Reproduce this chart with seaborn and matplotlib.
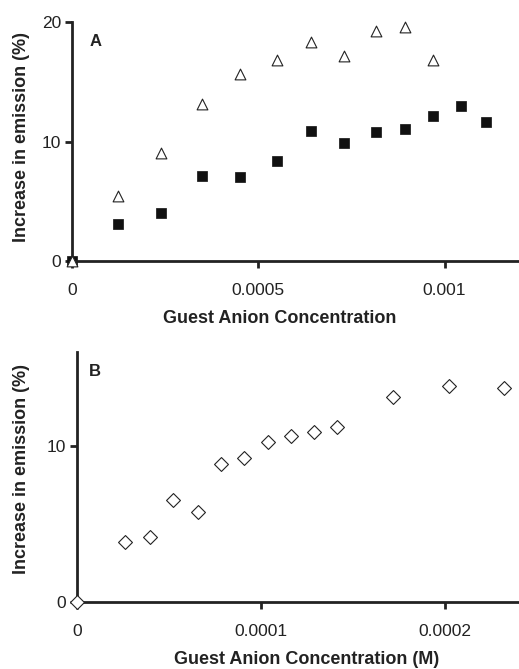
import numpy as np
import pandas as pd
import matplotlib
matplotlib.use("Agg")
import matplotlib.pyplot as plt
import seaborn as sns

# ==========================
# DATA
# ==========================
conc_a = [0, 0.000123, 0.000239, 0.000348, 0.000451, 0.000549, 0.000642,
          0.000729, 0.000815, 0.000894, 0.000969]
open_tri = [0, 5.4, 9.0, 13.1, 15.65, 16.8, 18.3, 17.15, 19.25, 19.6, 16.8]

conc_a_sq = [0, 0.000123, 0.000239, 0.000348, 0.000451, 0.000549, 0.000642,
             0.000729, 0.000815, 0.000894, 0.000969, 0.001043, 0.001112]
filled_sq = [0, 3.1, 4.05, 7.1, 7.0, 8.4, 10.85, 9.9, 10.8, 11.05, 12.1, 13.0, 11.6]

conc_b = [0, 0.0000263, 0.0000397, 0.0000522, 0.0000656, 0.000078, 0.0000908,
          0.0001035, 0.0001161, 0.0001286, 0.0001413, 0.0001718, 0.0002022, 0.000232]
diamonds = [0, 3.85, 4.15, 6.55, 5.75, 8.85, 9.2, 10.25, 10.6, 10.9, 11.2,
            13.15, 13.8, 13.7]

xticks_a = [0, 0.0005, 0.001]
xticklabels_a = ["0", "0.0005", "0.001"]
yticks_a = [0, 10, 20]
xticks_b = [0, 0.0001, 0.0002]
xticklabels_b = ["0", "0.0001", "0.0002"]
yticks_b = [0, 10]

df_tri = pd.DataFrame({"x": conc_a, "y": open_tri})
df_sq = pd.DataFrame({"x": conc_a_sq, "y": filled_sq})
df_b = pd.DataFrame({"x": conc_b, "y": diamonds})

# ==========================
# STYLE
# ==========================
sns.set_style("ticks")
plt.rcParams["font.family"] = ["Liberation Sans", "DejaVu Sans"]
INK = "#222222"
TICK_FS = 12.5
LABEL_FS = 13

fig = plt.figure(figsize=(5.19, 6.69), dpi=100)
ax1 = fig.add_axes([72 / 519, 1 - 261 / 669, 1 - 72 / 519, 239 / 669])
ax2 = fig.add_axes([77 / 519, 1 - 602 / 669, 1 - 77 / 519, 250 / 669])

# panel A
sns.scatterplot(data=df_tri, x="x", y="y", ax=ax1, marker="^", s=60,
                facecolor="white", edgecolor=INK, linewidth=0.8,
                clip_on=False, zorder=3)
sns.scatterplot(data=df_sq, x="x", y="y", ax=ax1, marker="s", s=62,
                color="#111111", edgecolor="#111111", linewidth=0.5,
                clip_on=False, zorder=2)
ax1.set_xlim(0, 0.0012)
ax1.set_ylim(0, 20)

# panel B
sns.scatterplot(data=df_b, x="x", y="y", ax=ax2, marker="D", s=50,
                facecolor="white", edgecolor=INK, linewidth=0.8,
                clip_on=False, zorder=3)
ax2.set_xlim(0, 0.00024)
ax2.set_ylim(0, 16)

for ax, xt, xtl, yt in [(ax1, xticks_a, xticklabels_a, yticks_a),
                        (ax2, xticks_b, xticklabels_b, yticks_b)]:
    sns.despine(ax=ax)
    for side in ["left", "bottom"]:
        ax.spines[side].set_linewidth(2)
        ax.spines[side].set_color(INK)
    ax.set_xticks(xt)
    ax.set_xticklabels(xtl)
    ax.set_yticks(yt)
    ax.tick_params(axis="x", length=5, width=2, color=INK, pad=10.5,
                   labelsize=TICK_FS, labelcolor=INK)
    ax.tick_params(axis="y", length=5, width=2, color=INK, pad=3,
                   labelsize=TICK_FS, labelcolor=INK)
    ax.set_ylabel("Increase in emission (%)", fontsize=LABEL_FS,
                  fontweight="bold", color=INK)

ax1.set_xlabel("Guest Anion Concentration", fontsize=LABEL_FS,
               fontweight="bold", color=INK)
ax2.set_xlabel("Guest Anion Concentration (M)", fontsize=LABEL_FS,
               fontweight="bold", color=INK)
ax1.xaxis.set_label_coords(0.465, -0.205)
ax2.xaxis.set_label_coords(0.52, -0.196)
ax1.yaxis.set_label_coords(-0.094, 0.52)
ax2.yaxis.set_label_coords(-0.106, 0.532)

ax1.text(96 / 100, (669 - 41.5) / 100, "A", transform=fig.dpi_scale_trans,
         fontsize=12, fontweight="bold", color=INK, ha="center", va="center")
ax2.text(95 / 100, (669 - 371) / 100, "B", transform=fig.dpi_scale_trans,
         fontsize=12, fontweight="bold", color=INK, ha="center", va="center")

fig.savefig("out.png", dpi=100)
